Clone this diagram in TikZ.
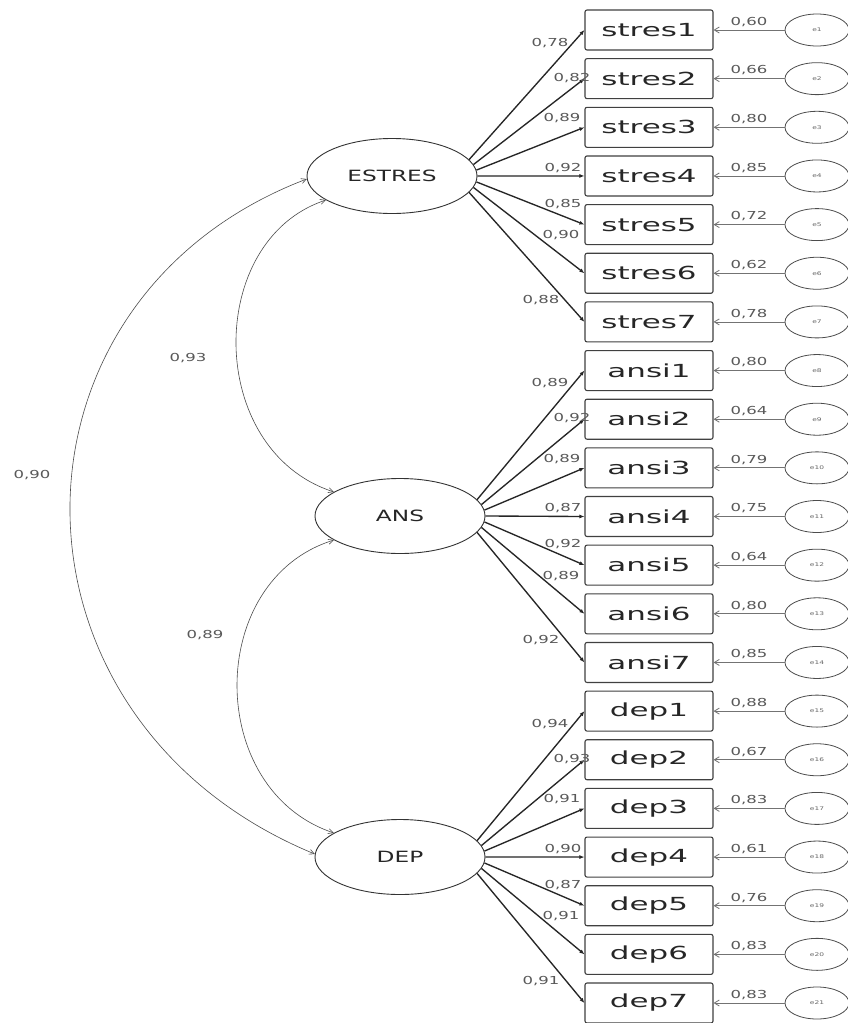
\documentclass[tikz,border=0pt]{standalone}
\usepackage{fontspec}
\setmainfont{DejaVu Sans}
\usepackage{graphicx}
\usetikzlibrary{arrows.meta,shapes.geometric}
\newcommand{\stretchtxt}[1]{\scalebox{1.5}[1]{#1}}
\newcommand{\boxtxt}[1]{\scalebox{1.72}[1]{#1}}
\begin{document}
\begin{tikzpicture}[x=1pt,y=-1pt,
  obs/.style={draw=black!75, line width=1.1pt, rounded corners=2pt, minimum width=128pt, minimum height=40pt, inner sep=0pt, font=\fontsize{18}{18}\selectfont, text=black!85},
  lat/.style={ellipse, draw=black!80, line width=0.9pt, minimum width=170pt, minimum height=75pt, inner sep=0pt, font=\fontsize{15.5}{15.5}\selectfont, text=black!85},
  errnode/.style={ellipse, draw=black!70, line width=0.8pt, minimum width=64pt, minimum height=32pt, inner sep=0pt, font=\fontsize{5}{5}\selectfont, text=black!60},
  load/.style={-{Latex[length=5pt,width=4pt]}, line width=1.35pt, draw=black!85},
  erra/.style={-{Straight Barb[length=5pt,width=6pt]}, draw=black!55, line width=0.8pt},
  cov/.style={{Straight Barb[length=5pt,width=5pt]}-{Straight Barb[length=5pt,width=5pt]}, draw=black!70, line width=0.6pt},
  lab/.style={font=\fontsize{11}{11}\selectfont, text=black!65, inner sep=0pt}]
\useasboundingbox (0,0) rectangle (848,1023);
\fill[white] (0,0) rectangle (848,1023);

% observed indicators and error terms
\foreach \t [count=\i] in {stres1,stres2,stres3,stres4,stres5,stres6,stres7,
  ansi1,ansi2,ansi3,ansi4,ansi5,ansi6,ansi7,
  dep1,dep2,dep3,dep4,dep5,dep6,dep7} {
  \pgfmathsetmacro\yy{30+48.65*(\i-1)}
  \node[obs] (o\i) at (649,\yy) {\boxtxt{\t}};
  \node[errnode] (e\i) at (817,\yy) {\stretchtxt{e\i}};
}

% latent factors
\node[lat] (E) at (392,176) {\stretchtxt{ESTRES}};
\node[lat] (A) at (400,516) {\stretchtxt{ANS}};
\node[lat] (D) at (400,857) {\stretchtxt{DEP}};

% error arrows
\foreach \v [count=\i] in {{0,60},{0,66},{0,80},{0,85},{0,72},{0,62},{0,78},
  {0,80},{0,64},{0,79},{0,75},{0,64},{0,80},{0,85},
  {0,88},{0,67},{0,83},{0,61},{0,76},{0,83},{0,83}} {
  \draw[erra] (e\i) -- (o\i) node[lab, midway, above=3pt] {\stretchtxt{\v}};
}

% loadings (start near the right end of each factor ellipse)
\foreach \k [count=\j] in {12,8,4,0,-4,-8,-12} {
  \pgfmathtruncatemacro\ia{\j}
  \pgfmathtruncatemacro\ib{\j+7}
  \pgfmathtruncatemacro\ic{\j+14}
  \draw[load] (E.\k) -- (o\ia.west);
  \draw[load] (A.\k) -- (o\ib.west);
  \draw[load] (D.\k) -- (o\ic.west);
}

\foreach \v [count=\i] in {{0,78},{0,82},{0,89},{0,92},{0,85},{0,90},{0,88},
  {0,89},{0,92},{0,89},{0,87},{0,92},{0,89},{0,92},
  {0,94},{0,93},{0,91},{0,90},{0,87},{0,91},{0,91}} {
  \pgfmathtruncatemacro\k{mod(\i-1,7)}
  \pgfmathsetmacro\dx{{550,572,562,563,563,561,541}[\k]}
  \pgfmathsetmacro\dy{{13,-1,-9,-8,-21,-38,-22}[\k]}
  \pgfmathsetmacro\yy{30+48.65*(\i-1)+\dy}
  \node[lab] (l\i) at (\dx,\yy) {\stretchtxt{\v}};
}

% covariances
\draw[cov] (E.200) .. controls (205,240) and (205,450) .. (A.160);
\draw[cov] (A.200) .. controls (205,580) and (205,790) .. (D.160);
\draw[cov] (E.182) .. controls (-10,300) and (-10,720) .. (D.178);
\node[lab] (c1) at (188,358) {\stretchtxt{0,93}};
\node[lab] (c2) at (205,635) {\stretchtxt{0,89}};
\node[lab] (c3) at (32,475) {\stretchtxt{0,90}};
\end{tikzpicture}
\end{document}
